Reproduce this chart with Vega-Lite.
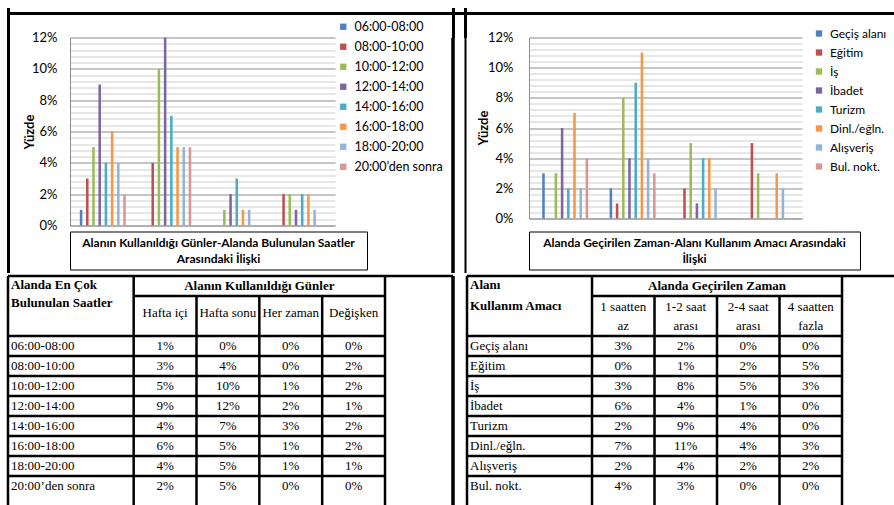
{
  "$schema": "https://vega.github.io/schema/vega-lite/v6.json",
  "background": "white",
  "padding": {"left": 5, "top": 6, "right": 0, "bottom": 0},
  "spacing": -4,
  "resolve": {"scale": {"color": "independent"}, "legend": {"color": "independent"}},
  "datasets": {
    "left": [
      {"g": "Hafta içi", "s": "06:00-08:00", "v": 0.01}, {"g": "Hafta içi", "s": "08:00-10:00", "v": 0.03}, {"g": "Hafta içi", "s": "10:00-12:00", "v": 0.05}, {"g": "Hafta içi", "s": "12:00-14:00", "v": 0.09},
      {"g": "Hafta içi", "s": "14:00-16:00", "v": 0.04}, {"g": "Hafta içi", "s": "16:00-18:00", "v": 0.06}, {"g": "Hafta içi", "s": "18:00-20:00", "v": 0.04}, {"g": "Hafta içi", "s": "20:00’den sonra", "v": 0.02},
      {"g": "Hafta sonu", "s": "06:00-08:00", "v": 0.0}, {"g": "Hafta sonu", "s": "08:00-10:00", "v": 0.04}, {"g": "Hafta sonu", "s": "10:00-12:00", "v": 0.10}, {"g": "Hafta sonu", "s": "12:00-14:00", "v": 0.12},
      {"g": "Hafta sonu", "s": "14:00-16:00", "v": 0.07}, {"g": "Hafta sonu", "s": "16:00-18:00", "v": 0.05}, {"g": "Hafta sonu", "s": "18:00-20:00", "v": 0.05}, {"g": "Hafta sonu", "s": "20:00’den sonra", "v": 0.05},
      {"g": "Her zaman", "s": "06:00-08:00", "v": 0.0}, {"g": "Her zaman", "s": "08:00-10:00", "v": 0.0}, {"g": "Her zaman", "s": "10:00-12:00", "v": 0.01}, {"g": "Her zaman", "s": "12:00-14:00", "v": 0.02},
      {"g": "Her zaman", "s": "14:00-16:00", "v": 0.03}, {"g": "Her zaman", "s": "16:00-18:00", "v": 0.01}, {"g": "Her zaman", "s": "18:00-20:00", "v": 0.01}, {"g": "Her zaman", "s": "20:00’den sonra", "v": 0.0},
      {"g": "Değişken", "s": "06:00-08:00", "v": 0.0}, {"g": "Değişken", "s": "08:00-10:00", "v": 0.02}, {"g": "Değişken", "s": "10:00-12:00", "v": 0.02}, {"g": "Değişken", "s": "12:00-14:00", "v": 0.01},
      {"g": "Değişken", "s": "14:00-16:00", "v": 0.02}, {"g": "Değişken", "s": "16:00-18:00", "v": 0.02}, {"g": "Değişken", "s": "18:00-20:00", "v": 0.01}, {"g": "Değişken", "s": "20:00’den sonra", "v": 0.0}
    ],
    "right": [
      {"g": "1 saatten\naz", "s": "Geçiş alanı", "v": 0.03}, {"g": "1 saatten\naz", "s": "Eğitim", "v": 0.0}, {"g": "1 saatten\naz", "s": "İş", "v": 0.03}, {"g": "1 saatten\naz", "s": "İbadet", "v": 0.06},
      {"g": "1 saatten\naz", "s": "Turizm", "v": 0.02}, {"g": "1 saatten\naz", "s": "Dinl./eğln.", "v": 0.07}, {"g": "1 saatten\naz", "s": "Alışveriş", "v": 0.02}, {"g": "1 saatten\naz", "s": "Bul. nokt.", "v": 0.04},
      {"g": "1-2 saat\narası", "s": "Geçiş alanı", "v": 0.02}, {"g": "1-2 saat\narası", "s": "Eğitim", "v": 0.01}, {"g": "1-2 saat\narası", "s": "İş", "v": 0.08}, {"g": "1-2 saat\narası", "s": "İbadet", "v": 0.04},
      {"g": "1-2 saat\narası", "s": "Turizm", "v": 0.09}, {"g": "1-2 saat\narası", "s": "Dinl./eğln.", "v": 0.11}, {"g": "1-2 saat\narası", "s": "Alışveriş", "v": 0.04}, {"g": "1-2 saat\narası", "s": "Bul. nokt.", "v": 0.03},
      {"g": "2-4 saat\narası", "s": "Geçiş alanı", "v": 0.0}, {"g": "2-4 saat\narası", "s": "Eğitim", "v": 0.02}, {"g": "2-4 saat\narası", "s": "İş", "v": 0.05}, {"g": "2-4 saat\narası", "s": "İbadet", "v": 0.01},
      {"g": "2-4 saat\narası", "s": "Turizm", "v": 0.04}, {"g": "2-4 saat\narası", "s": "Dinl./eğln.", "v": 0.04}, {"g": "2-4 saat\narası", "s": "Alışveriş", "v": 0.02}, {"g": "2-4 saat\narası", "s": "Bul. nokt.", "v": 0.0},
      {"g": "4 saatten\nfazla", "s": "Geçiş alanı", "v": 0.0}, {"g": "4 saatten\nfazla", "s": "Eğitim", "v": 0.05}, {"g": "4 saatten\nfazla", "s": "İş", "v": 0.03}, {"g": "4 saatten\nfazla", "s": "İbadet", "v": 0.0},
      {"g": "4 saatten\nfazla", "s": "Turizm", "v": 0.0}, {"g": "4 saatten\nfazla", "s": "Dinl./eğln.", "v": 0.03}, {"g": "4 saatten\nfazla", "s": "Alışveriş", "v": 0.02}, {"g": "4 saatten\nfazla", "s": "Bul. nokt.", "v": 0.0}
    ],
    "boxL": [{"t": "Alanın Kullanıldığı Günler-Alanda Bulunulan Saatler\nArasındaki İlişki"}],
    "boxR": [{"t": "Alanda Geçirilen Zaman-Alanı Kullanım Amacı Arasındaki\nİlişki"}],
    "hdrL": [{"a": "Alanda En Çok\nBulunulan Saatler", "b": "Alanın Kullanıldığı Günler"}],
    "hdrR": [{"a": "Alanı\nKullanım Amacı", "b": "Alanda Geçirilen Zaman"}]
  },
  "vconcat": [
    {
      "spacing": -14.5,
      "resolve": {"scale": {"color": "independent"}, "legend": {"color": "independent"}},
      "vconcat": [
        {
          "width": 887,
          "height": 1,
          "view": {"stroke": "#000", "strokeWidth": 2, "fill": null},
          "data": {"name": "hdrL"},
          "mark": {"type": "text"},
          "encoding": {"text": {"value": ""}}
        },
        {
          "spacing": 0,
          "resolve": {"scale": {"color": "independent", "y": "independent", "x": "independent"}, "legend": {"color": "independent"}},
          "hconcat": [
            {
              "width": 1,
              "height": 235,
              "view": {"fill": null, "stroke": null},
              "data": {"name": "hdrL"},
              "mark": {"type": "point", "opacity": 0},
              "encoding": {
                "x": {"datum": 0, "type": "quantitative", "scale": {"domain": [0, 1]}, "axis": {"orient": "top", "values": [0], "tickSize": 30, "tickWidth": 3, "tickColor": "#000", "labels": false, "domain": false, "grid": false, "title": null}},
                "y": {"datum": 0, "type": "quantitative", "scale": {"domain": [0, 1]}, "axis": {"orient": "left", "domainColor": "#000", "domainWidth": 3, "ticks": false, "labels": false, "grid": false, "title": null}}
              }
            },
            {
              "width": 58,
              "height": 188,
              "view": {"fill": "white", "stroke": null},
              "data": {"name": "left"},
              "mark": {"type": "point", "opacity": 0},
              "encoding": {
                "y": {"field": "v", "type": "quantitative", "scale": {"domain": [0, 0.12]},
                  "axis": {"orient": "right", "values": [0, 0.02, 0.04, 0.06, 0.08, 0.1, 0.12], "format": ".0%", "grid": false, "ticks": false, "domain": false, "labelAlign": "right", "labelPadding": -12, "labelFont": "Lato", "labelFontSize": 13, "labelColor": "#000",
                    "title": "Yüzde", "titleAngle": 270, "titleX": -40, "titleY": 94, "titleAlign": "center", "titleBaseline": "middle", "titleFont": "Lato", "titleFontSize": 13, "titleFontWeight": "bold", "titleColor": "#000"}}
              }
            },
            {
              "spacing": 5,
              "vconcat": [
                {
                  "width": 265,
                  "height": 188,
                  "data": {"name": "left"},
                  "encoding": {
                    "x": {"field": "g", "type": "nominal", "sort": ["Hafta içi", "Hafta sonu", "Her zaman", "Değişken"], "scale": {"paddingInner": 0.25, "paddingOuter": 0.15}, "axis": {"labels": false, "ticks": false, "title": null, "domainColor": "#9a9a9a"}},
                    "xOffset": {"field": "s", "type": "nominal", "sort": ["06:00-08:00", "08:00-10:00", "10:00-12:00", "12:00-14:00", "14:00-16:00", "16:00-18:00", "18:00-20:00", "20:00’den sonra"], "scale": {"paddingInner": 0.18}},
                    "color": {"field": "s", "type": "nominal", "scale": {"domain": ["06:00-08:00", "08:00-10:00", "10:00-12:00", "12:00-14:00", "14:00-16:00", "16:00-18:00", "18:00-20:00", "20:00’den sonra"], "range": ["#4F81BD", "#C0504D", "#9BBB59", "#8064A2", "#4BACC6", "#F79646", "#95B3D7", "#D99694"]},
                      "legend": {"title": null, "orient": "none", "legendX": 267, "legendY": -17, "symbolType": "square", "symbolSize": 40, "symbolStrokeWidth": 0, "symbolOpacity": 1, "labelFont": "Lato", "labelFontSize": 12.5, "labelColor": "#000", "rowPadding": 7, "labelOffset": 5}}
                  },
                  "layer": [
                    {
                      "mark": {"type": "bar"},
                      "encoding": {"y": {"field": "v", "type": "quantitative", "scale": {"domain": [0, 0.12]}, "axis": {"orient": "left", "values": [0, 0.02, 0.04, 0.06, 0.08, 0.1, 0.12], "grid": true, "gridColor": "#8c8c8c", "ticks": false, "labels": false, "domainColor": "#8c8c8c", "title": null}}}
                    },
                    {
                      "mark": {"type": "bar", "opacity": 0},
                      "encoding": {"y": {"field": "v", "type": "quantitative", "scale": {"domain": [0, 0.12]}, "axis": {"orient": "right", "values": [0.004, 0.008, 0.012, 0.016, 0.024, 0.028, 0.032, 0.036, 0.044, 0.048, 0.052, 0.056, 0.064, 0.068, 0.072, 0.076, 0.084, 0.088, 0.092, 0.096, 0.104, 0.108, 0.112, 0.116], "grid": true, "gridColor": "#cfcfcf", "labels": false, "ticks": false, "domain": false, "title": null}}}
                    }
                  ],
                  "resolve": {"axis": {"y": "independent"}}
                },
                {
                  "width": 297,
                  "height": 38,
                  "view": {"stroke": "#000", "strokeWidth": 1},
                  "data": {"name": "boxL"},
                  "mark": {"type": "text", "font": "Lato", "fontSize": 12, "fontWeight": "bold", "lineBreak": "\n", "lineHeight": 16, "dy": -8, "color": "#000"},
                  "encoding": {"text": {"field": "t"}}
                }
              ]
            },
            {
              "width": 20,
              "height": 235,
              "view": {"fill": "white", "stroke": null},
              "data": {"name": "hdrL"},
              "layer": [
                {
                  "mark": {"type": "point", "opacity": 0},
                  "encoding": {
                    "x": {"datum": 0, "type": "quantitative", "scale": {"domain": [0, 20]}, "axis": {"orient": "top", "values": [6.5, 19], "tickSize": 30, "tickWidth": 3, "tickColor": "#000", "labels": false, "domain": false, "grid": false, "title": null}},
                    "y": {"datum": 0, "type": "quantitative", "scale": {"domain": [0, 1]}, "axis": {"orient": "left", "offset": -6.5, "domainColor": "#000", "domainWidth": 3.5, "ticks": false, "labels": false, "grid": false, "title": null}}
                  }
                },
                {
                  "mark": {"type": "point", "opacity": 0},
                  "encoding": {
                    "y": {"datum": 0, "type": "quantitative", "scale": {"domain": [0, 1]}, "axis": {"orient": "right", "offset": -1, "domainColor": "#000", "domainWidth": 2, "ticks": false, "labels": false, "grid": false, "title": null}}
                  }
                }
              ],
              "resolve": {"axis": {"y": "independent"}}
            },
            {
              "width": 61,
              "height": 181,
              "view": {"fill": "white", "stroke": null},
              "data": {"name": "right"},
              "mark": {"type": "point", "opacity": 0},
              "encoding": {
                "y": {"field": "v", "type": "quantitative", "scale": {"domain": [0, 0.12]},
                  "axis": {"orient": "right", "values": [0, 0.02, 0.04, 0.06, 0.08, 0.1, 0.12], "format": ".0%", "grid": false, "ticks": false, "domain": false, "labelAlign": "right", "labelPadding": -15, "labelFont": "Lato", "labelFontSize": 13, "labelColor": "#000",
                    "title": "Yüzde", "titleAngle": 270, "titleX": -45, "titleY": 90, "titleAlign": "center", "titleBaseline": "middle", "titleFont": "Lato", "titleFontSize": 13, "titleFontWeight": "bold", "titleColor": "#000"}}
              }
            },
            {
              "spacing": 12,
              "vconcat": [
                {
                  "width": 273,
                  "height": 181,
                  "data": {"name": "right"},
                  "encoding": {
                    "x": {"field": "g", "type": "nominal", "sort": ["1 saatten\naz", "1-2 saat\narası", "2-4 saat\narası", "4 saatten\nfazla"], "scale": {"paddingInner": 0.25, "paddingOuter": 0.15}, "axis": {"labels": false, "ticks": false, "title": null, "domainColor": "#9a9a9a"}},
                    "xOffset": {"field": "s", "type": "nominal", "sort": ["Geçiş alanı", "Eğitim", "İş", "İbadet", "Turizm", "Dinl./eğln.", "Alışveriş", "Bul. nokt."], "scale": {"paddingInner": 0.18}},
                    "color": {"field": "s", "type": "nominal", "scale": {"domain": ["Geçiş alanı", "Eğitim", "İş", "İbadet", "Turizm", "Dinl./eğln.", "Alışveriş", "Bul. nokt."], "range": ["#4F81BD", "#C0504D", "#9BBB59", "#8064A2", "#4BACC6", "#F79646", "#95B3D7", "#D99694"]},
                      "legend": {"title": null, "orient": "none", "legendX": 277, "legendY": -17, "padding": 7, "symbolType": "square", "symbolSize": 40, "symbolStrokeWidth": 0, "symbolOpacity": 1, "labelFont": "Lato", "labelFontSize": 12, "labelColor": "#000", "rowPadding": 7, "labelOffset": 5, "fillColor": "#ffffff"}}
                  },
                  "layer": [
                    {
                      "mark": {"type": "bar"},
                      "encoding": {"y": {"field": "v", "type": "quantitative", "scale": {"domain": [0, 0.12]}, "axis": {"orient": "left", "values": [0, 0.02, 0.04, 0.06, 0.08, 0.1, 0.12], "grid": true, "gridColor": "#8c8c8c", "ticks": false, "labels": false, "domainColor": "#8c8c8c", "title": null}}}
                    },
                    {
                      "mark": {"type": "bar", "opacity": 0},
                      "encoding": {"y": {"field": "v", "type": "quantitative", "scale": {"domain": [0, 0.12]}, "axis": {"orient": "right", "values": [0.004, 0.008, 0.012, 0.016, 0.024, 0.028, 0.032, 0.036, 0.044, 0.048, 0.052, 0.056, 0.064, 0.068, 0.072, 0.076, 0.084, 0.088, 0.092, 0.096, 0.104, 0.108, 0.112, 0.116], "grid": true, "gridColor": "#cfcfcf", "labels": false, "ticks": false, "domain": false, "title": null}}}
                    }
                  ],
                  "resolve": {"axis": {"y": "independent"}}
                },
                {
                  "width": 331,
                  "height": 38,
                  "view": {"stroke": "#000", "strokeWidth": 1},
                  "data": {"name": "boxR"},
                  "mark": {"type": "text", "font": "Lato", "fontSize": 12, "fontWeight": "bold", "lineBreak": "\n", "lineHeight": 16, "dy": -8, "color": "#000"},
                  "encoding": {"text": {"field": "t"}}
                }
              ]
            }
          ]
        }
      ]
    },
    {
      "spacing": 0,
      "hconcat": [
        {
          "width": 445,
          "height": 229,
          "view": {"stroke": null, "fill": "white"},
          "layer": [
            {
              "data": {"name": "left"},
              "transform": [{"filter": "datum.g === 'Hafta içi'"}],
              "mark": {"type": "rule", "color": "#000", "strokeWidth": 2.5},
              "encoding": {
                "y": {"field": "s", "type": "nominal", "bandPosition": 0, "scale": {"type": "band", "domain": ["h1", "h2a", "h2b", "06:00-08:00", "08:00-10:00", "10:00-12:00", "12:00-14:00", "14:00-16:00", "16:00-18:00", "18:00-20:00", "20:00’den sonra"], "paddingInner": 0, "paddingOuter": 0.225, "align": 0}, "axis": null},
                "x": {"datum": "c0a", "type": "nominal", "bandPosition": 0, "scale": {"type": "band", "domain": ["c0a", "c0b", "Hafta içi", "Hafta sonu", "Her zaman", "Değişken"], "paddingInner": 0, "paddingOuter": 0.541, "align": 0}, "axis": null},
                "x2": {"datum": "Değişken", "bandPosition": 1}
              }
            },
            {
              "data": {"name": "hdrL"},
              "mark": {"type": "rule", "color": "#000", "strokeWidth": 2.5},
              "encoding": {"y": {"datum": "h1", "type": "nominal", "bandPosition": 0}}
            },
            {
              "data": {"name": "hdrL"},
              "mark": {"type": "rule", "color": "#000", "strokeWidth": 2.5},
              "encoding": {
                "y": {"datum": "h2a", "type": "nominal", "bandPosition": 0},
                "x": {"datum": "Hafta içi", "type": "nominal", "bandPosition": 0},
                "x2": {"datum": "Değişken", "bandPosition": 1}
              }
            },
            {
              "data": {"name": "hdrL"},
              "mark": {"type": "rule", "color": "#000", "strokeWidth": 2.5},
              "encoding": {"x": {"datum": "c0a", "type": "nominal", "bandPosition": 0}}
            },
            {
              "data": {"name": "hdrL"},
              "mark": {"type": "rule", "color": "#000", "strokeWidth": 2.5},
              "encoding": {"x": {"datum": "Hafta içi", "type": "nominal", "bandPosition": 0}}
            },
            {
              "data": {"name": "hdrL"},
              "mark": {"type": "rule", "color": "#000", "strokeWidth": 2.5},
              "encoding": {"x": {"datum": "Değişken", "type": "nominal", "bandPosition": 1}}
            },
            {
              "data": {"name": "hdrL"},
              "mark": {"type": "rule", "color": "#000", "strokeWidth": 3.5},
              "encoding": {"x": {"value": "width"}}
            },
            {
              "data": {"name": "left"},
              "transform": [{"filter": "datum.s === '06:00-08:00' && datum.g !== 'Hafta içi'"}],
              "mark": {"type": "rule", "color": "#000", "strokeWidth": 2.5},
              "encoding": {
                "x": {"field": "g", "type": "nominal", "bandPosition": 0},
                "y": {"datum": "h2a", "type": "nominal", "bandPosition": 0},
                "y2": {"value": "height"}
              }
            },
            {
              "data": {"name": "left"},
              "transform": [{"filter": "datum.g === 'Hafta içi'"}],
              "mark": {"type": "text", "font": "Liberation Serif", "fontSize": 13, "color": "#000", "align": "left", "dx": 3},
              "encoding": {
                "x": {"datum": "c0a", "type": "nominal", "bandPosition": 0},
                "y": {"field": "s", "type": "nominal"},
                "text": {"field": "s"}
              }
            },
            {
              "data": {"name": "left"},
              "mark": {"type": "text", "font": "Liberation Serif", "fontSize": 13, "color": "#000"},
              "encoding": {
                "x": {"field": "g", "type": "nominal"},
                "y": {"field": "s", "type": "nominal"},
                "text": {"field": "v", "type": "quantitative", "format": ".0%"}
              }
            },
            {
              "data": {"name": "left"},
              "transform": [{"filter": "datum.s === '06:00-08:00'"}],
              "mark": {"type": "text", "font": "Liberation Serif", "fontSize": 13, "color": "#000", "dy": -3},
              "encoding": {
                "x": {"field": "g", "type": "nominal"},
                "y": {"datum": "h2a", "type": "nominal", "bandPosition": 1},
                "text": {"field": "g"}
              }
            },
            {
              "data": {"name": "hdrL"},
              "mark": {"type": "text", "font": "Liberation Serif", "fontSize": 13, "fontWeight": "bold", "color": "#000"},
              "encoding": {
                "x": {"datum": "Her zaman", "type": "nominal", "bandPosition": 0},
                "y": {"datum": "h1", "type": "nominal"},
                "text": {"field": "b"}
              }
            },
            {
              "data": {"name": "hdrL"},
              "mark": {"type": "text", "font": "Liberation Serif", "fontSize": 13, "fontWeight": "bold", "color": "#000", "align": "left", "baseline": "top", "dx": 3, "dy": 3, "lineBreak": "\n", "lineHeight": 18},
              "encoding": {
                "x": {"datum": "c0a", "type": "nominal", "bandPosition": 0},
                "y": {"datum": "h1", "type": "nominal", "bandPosition": 0},
                "text": {"field": "a"}
              }
            }
          ]
        },
        {
          "width": 441,
          "height": 229,
          "view": {"stroke": null, "fill": "white"},
          "layer": [
            {
              "data": {"name": "right"},
              "transform": [{"filter": "datum.g === '1 saatten\\naz'"}],
              "mark": {"type": "rule", "color": "#000", "strokeWidth": 2.5},
              "encoding": {
                "y": {"field": "s", "type": "nominal", "bandPosition": 0, "scale": {"type": "band", "domain": ["h1", "h2a", "h2b", "Geçiş alanı", "Eğitim", "İş", "İbadet", "Turizm", "Dinl./eğln.", "Alışveriş", "Bul. nokt."], "paddingInner": 0, "paddingOuter": 0.225, "align": 0}, "axis": null},
                "x": {"datum": "c0a", "type": "nominal", "bandPosition": 0, "scale": {"type": "band", "domain": ["c0a", "c0b", "1 saatten\naz", "1-2 saat\narası", "2-4 saat\narası", "4 saatten\nfazla"], "paddingInner": 0, "paddingOuter": 0.528, "align": 0.182}, "axis": null},
                "x2": {"datum": "4 saatten\nfazla", "bandPosition": 1}
              }
            },
            {
              "data": {"name": "hdrR"},
              "mark": {"type": "rule", "color": "#000", "strokeWidth": 2.5},
              "encoding": {
                "y": {"datum": "h1", "type": "nominal", "bandPosition": 0},
                "x": {"datum": "c0a", "type": "nominal", "bandPosition": 0},
                "x2": {"value": "width"}
              }
            },
            {
              "data": {"name": "hdrR"},
              "mark": {"type": "rule", "color": "#000", "strokeWidth": 2.5},
              "encoding": {
                "y": {"datum": "h2a", "type": "nominal", "bandPosition": 0},
                "x": {"datum": "1 saatten\naz", "type": "nominal", "bandPosition": 0},
                "x2": {"datum": "4 saatten\nfazla", "bandPosition": 1}
              }
            },
            {
              "data": {"name": "hdrR"},
              "mark": {"type": "rule", "color": "#000", "strokeWidth": 2.5},
              "encoding": {"x": {"datum": "c0a", "type": "nominal", "bandPosition": 0}}
            },
            {
              "data": {"name": "hdrR"},
              "mark": {"type": "rule", "color": "#000", "strokeWidth": 2.5},
              "encoding": {"x": {"datum": "1 saatten\naz", "type": "nominal", "bandPosition": 0}}
            },
            {
              "data": {"name": "hdrR"},
              "mark": {"type": "rule", "color": "#000", "strokeWidth": 2.5},
              "encoding": {"x": {"datum": "4 saatten\nfazla", "type": "nominal", "bandPosition": 1}}
            },
            {
              "data": {"name": "right"},
              "transform": [{"filter": "datum.s === 'Geçiş alanı' && datum.g !== '1 saatten\\naz'"}],
              "mark": {"type": "rule", "color": "#000", "strokeWidth": 2.5},
              "encoding": {
                "x": {"field": "g", "type": "nominal", "bandPosition": 0},
                "y": {"datum": "h2a", "type": "nominal", "bandPosition": 0},
                "y2": {"value": "height"}
              }
            },
            {
              "data": {"name": "right"},
              "transform": [{"filter": "datum.g === '1 saatten\\naz'"}],
              "mark": {"type": "text", "font": "Liberation Serif", "fontSize": 13, "color": "#000", "align": "left", "dx": 3},
              "encoding": {
                "x": {"datum": "c0a", "type": "nominal", "bandPosition": 0},
                "y": {"field": "s", "type": "nominal"},
                "text": {"field": "s"}
              }
            },
            {
              "data": {"name": "right"},
              "mark": {"type": "text", "font": "Liberation Serif", "fontSize": 13, "color": "#000"},
              "encoding": {
                "x": {"field": "g", "type": "nominal"},
                "y": {"field": "s", "type": "nominal"},
                "text": {"field": "v", "type": "quantitative", "format": ".0%"}
              }
            },
            {
              "data": {"name": "right"},
              "transform": [{"filter": "datum.s === 'Geçiş alanı'"}],
              "mark": {"type": "text", "font": "Liberation Serif", "fontSize": 13, "color": "#000", "lineBreak": "\n", "lineHeight": 19, "dy": -9},
              "encoding": {
                "x": {"field": "g", "type": "nominal"},
                "y": {"datum": "h2a", "type": "nominal", "bandPosition": 1},
                "text": {"field": "g"}
              }
            },
            {
              "data": {"name": "hdrR"},
              "mark": {"type": "text", "font": "Liberation Serif", "fontSize": 13, "fontWeight": "bold", "color": "#000"},
              "encoding": {
                "x": {"datum": "2-4 saat\narası", "type": "nominal", "bandPosition": 0},
                "y": {"datum": "h1", "type": "nominal"},
                "text": {"field": "b"}
              }
            },
            {
              "data": {"name": "hdrR"},
              "mark": {"type": "text", "font": "Liberation Serif", "fontSize": 13, "fontWeight": "bold", "color": "#000", "align": "left", "baseline": "top", "dx": 3, "dy": 3, "lineBreak": "\n", "lineHeight": 21},
              "encoding": {
                "x": {"datum": "c0a", "type": "nominal", "bandPosition": 0},
                "y": {"datum": "h1", "type": "nominal", "bandPosition": 0},
                "text": {"field": "a"}
              }
            }
          ]
        }
      ]
    }
  ],
  "config": {
    "view": {"stroke": null},
    "font": "Lato"
  }
}
